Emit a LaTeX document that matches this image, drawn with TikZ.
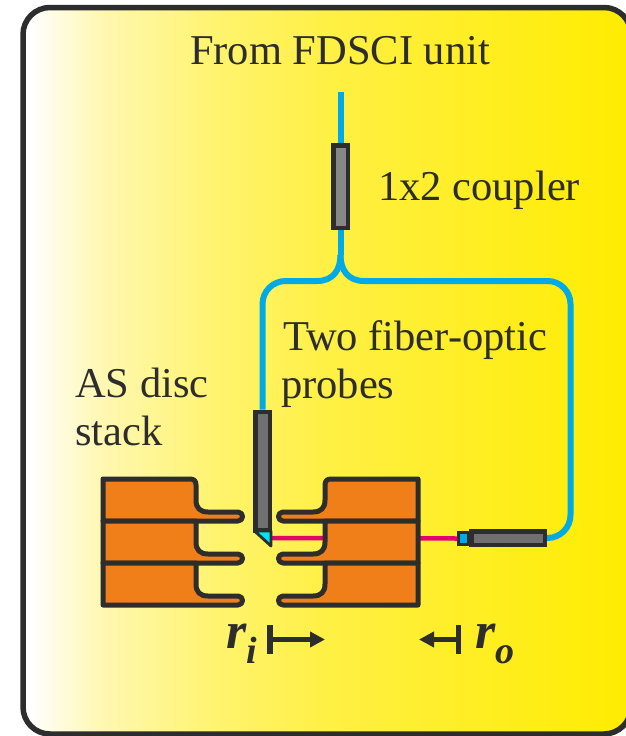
\documentclass[tikz,border=0pt]{standalone}
\usepackage{fontspec}
\setmainfont{Liberation Serif}
\usetikzlibrary{calc,arrows.meta}

\definecolor{inkdark}{RGB}{45,45,45}
\definecolor{fiberblue}{RGB}{0,170,230}
\definecolor{beampink}{RGB}{230,0,110}
\definecolor{discorange}{RGB}{240,127,26}
\definecolor{tipcyan}{RGB}{0,230,240}
\definecolor{probegray}{RGB}{112,112,112}
\definecolor{couplergray}{RGB}{135,135,135}

\pgfdeclarehorizontalshading{framefade}{100bp}{
  rgb(0bp)=(1,1,1); rgb(25.5bp)=(1,1,1); rgb(31.4bp)=(1,.97,.70);
  rgb(41bp)=(1,.955,.43); rgb(50bp)=(1,.94,.27); rgb(75bp)=(1,.925,0); rgb(100bp)=(1,.925,0)}

\tikzset{
  framebox/.style={shading=framefade,draw=inkdark,line width=5.5pt,rounded corners=27pt},
  fiber/.style={draw=fiberblue,line width=6pt},
  beam/.style={draw=beampink,line width=4.5pt},
  part/.style={rectangle,draw=inkdark,line width=4.5pt,inner sep=0pt},
  discline/.style={draw=inkdark,fill=discorange,line width=5pt,line join=round},
  lbl/.style={text=inkdark,font=\fontsize{42.5}{48}\selectfont,inner sep=0pt,align=left},
  radius arrow/.style={draw=inkdark,line width=4.5pt,
    {Bar[width=29pt,line width=5.5pt]}-{Triangle[length=15pt,width=15pt,inset=0pt]}},
}

\newcommand{\radlabel}[2]{\textbf{\textit{\fontsize{52}{52}\selectfont #1\raisebox{-15pt}{\fontsize{38}{38}\selectfont #2}}}}

\begin{document}
\begin{tikzpicture}[x=1pt,y=-1pt]
  \useasboundingbox (0,0) rectangle (625,736);
  \shadedraw[framebox] (23,7.5) rectangle (631,734);

  \node[part,fill=couplergray,minimum width=14.5pt,minimum height=82.5pt] (coupler) at (340.5,186.5) {};
  \node[part,fill=probegray,minimum width=14.5pt,minimum height=118.5pt] (probea) at (262.5,471) {};
  \node[part,fill=fiberblue,line width=3pt,minimum width=9.5pt,minimum height=12pt] (lens) at (463.5,538.5) {};
  \node[part,fill=probegray,minimum width=73.5pt,minimum height=13.5pt] (probeb) at (508,538) {};

  \coordinate (fibertop) at (340.5,92);
  \coordinate (split) at (340.5,255);
  \coordinate (joina) at (317,281);
  \coordinate (joinb) at (364,281);
  \coordinate (bend) at (570.5,538);
  \coordinate (tip) at (271,538);

  \draw[fiber] (fibertop) -- (coupler.north);
  \draw[fiber] (coupler.south) -- (split);
  \draw[fiber] (split) .. controls (340.5,270) and (333,281) .. (joina)
    [rounded corners=23pt] -| (probea.north);
  \draw[fiber] (split) .. controls (340.5,270) and (348,281) .. (joinb)
    [rounded corners=23pt] -| (bend) -- (probeb.east);

  \draw[beam] (tip) -- (lens.west);
  \draw[draw=inkdark,fill=tipcyan,line width=2.8pt,line join=round] (254.5,531) -- (271,531) -- (271,546) -- cycle;

  \foreach \side/\mirror in {0/1,521/-1} {
    \begin{scope}[xshift=\side,xscale=\mirror]
      \path[discline] (103,479) -- (190,479) .. controls (194,479) and (196,481) .. (196,485)
        -- (196,500) .. controls (196,508) and (200,512) .. (208,512)
        -- (238,512) .. controls (244,512) and (244,521) .. (238,521) -- (103,521) -- cycle;
      \foreach \shift in {42,84} {
        \path[discline,yshift=-\shift] (103,479) -- (196,479)
          -- (196,500) .. controls (196,508) and (200,512) .. (208,512)
          -- (238,512) .. controls (244,512) and (244,521) .. (238,521) -- (103,521) -- cycle;
      }
    \end{scope}
  }

  \coordinate (rileft) at (267,639.5);
  \coordinate (riright) at (325,639.5);
  \coordinate (roright) at (461,639.5);
  \coordinate (roleft) at (419,639.5);
  \draw[radius arrow] (rileft) -- (riright);
  \draw[radius arrow] (roright) -- (roleft);

  \node[lbl,anchor=base west] (source) at (190,64) {From FDSCI unit};
  \node[lbl,anchor=base west] (couplertext) at (378,200) {1x2 coupler};
  \node[lbl,anchor=base west] (probetext) at (283,350) {Two fiber-optic};
  \node[lbl,anchor=base west] (probetextb) at (281,398) {probes};
  \node[lbl,anchor=base west] (disctext) at (75,397) {AS disc};
  \node[lbl,anchor=base west] (disctextb) at (75,445) {stack};
  \node[lbl,anchor=base west] (ri) at (226,648) {\radlabel{r}{i}};
  \node[lbl,anchor=base west] (ro) at (475,648) {\radlabel{r}{o}};
\end{tikzpicture}
\end{document}
